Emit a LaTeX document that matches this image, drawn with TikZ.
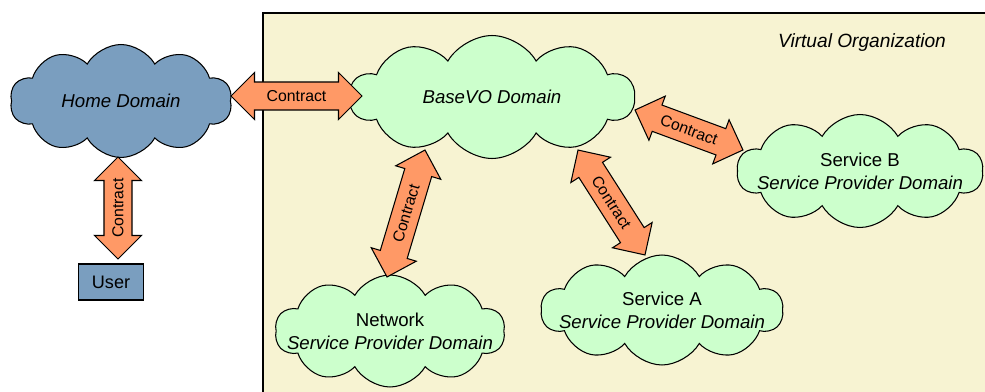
\documentclass[tikz,border=0pt]{standalone}
\usepackage{fontspec}
\setmainfont{Liberation Sans}
\usetikzlibrary{shapes.symbols,shapes.arrows,calc}
\definecolor{voback}{HTML}{F7F3D2}
\definecolor{homeblue}{HTML}{7A9EBF}
\definecolor{spgreen}{HTML}{CCFFCC}
\definecolor{contractorange}{HTML}{FF9966}

% double arrow between two named points, label along it
\newcommand{\contract}[2]{%
  \path let \p1=($(#2)-(#1)$), \n1={atan2(\y1,\x1)}, \n2={veclen(\x1,\y1)} in
    node[contractarrow, rotate=\n1, minimum height=\n2] at ($(#1)!0.5!(#2)$) {}
    node[contracttext, rotate=\n1] at ($(#1)!0.5!(#2)$) {Contract};}

\begin{document}
\begin{tikzpicture}[x=0.02cm, y=-0.02cm,
  every node/.style={align=center},
  cloudnode/.style={cloud, cloud puffs=10, cloud puff arc=120, cloud ignores aspect,
    draw, line width=0.6pt, inner ysep=0pt, inner xsep=-0.6cm, fill=#1,
    font=\fontsize{10.6}{13}\selectfont},
  contractarrow/.style={double arrow, double arrow head extend=0.19cm, inner xsep=0pt,
    inner ysep=0.27cm, draw, line width=0.6pt, fill=contractorange},
  contracttext/.style={font=\fontsize{9}{10}\selectfont, inner sep=0pt}
]
\useasboundingbox (0,0) rectangle (985,392);

% virtual organization
\fill[voback] (263,13) rectangle (985,392);
\draw[line width=0.6pt] (263,392) -- (263,13) -- (985,13);
\node[font=\fontsize{10.9}{13}\selectfont\itshape] (vo) at (862,43) {Virtual Organization};

% domains
\node[cloudnode=homeblue, minimum width=4.44cm, minimum height=2.26cm] (home) at (121,101) {\itshape Home Domain};
\node[cloudnode=spgreen, minimum width=5.7cm, minimum height=2.46cm] (base) at (492,97) {\itshape BaseVO Domain};
\node[cloudnode=spgreen, minimum width=4.92cm, minimum height=2.26cm] (servb) at (860,171) {Service B\\\itshape Service Provider Domain};
\node[cloudnode=spgreen, minimum width=4.84cm, minimum height=2.2cm] (serva) at (662,310) {Service A\\\itshape Service Provider Domain};
\node[cloudnode=spgreen, minimum width=4.6cm, minimum height=2.24cm] (net) at (390,331) {Network\\\itshape Service Provider Domain};
\node[draw, line width=0.6pt, fill=homeblue, minimum width=1.3cm, minimum height=0.72cm,
  font=\fontsize{10.3}{12}\selectfont] (user) at (111,282) {User};

% contract ends
\coordinate (home-e) at (231,96);
\coordinate (base-w) at (362,96);
\coordinate (home-s) at (118,157);
\coordinate (user-n) at (118,259);
\coordinate (net-n) at (387,277);
\coordinate (base-sw) at (425,150);
\coordinate (base-s) at (578,150);
\coordinate (serva-n) at (645,255);
\coordinate (base-e) at (635,110);
\coordinate (servb-w) at (743,150);

\contract{home-e}{base-w}
\contract{user-n}{home-s}
\contract{net-n}{base-sw}
\contract{base-s}{serva-n}
\contract{base-e}{servb-w}

\end{tikzpicture}
\end{document}
